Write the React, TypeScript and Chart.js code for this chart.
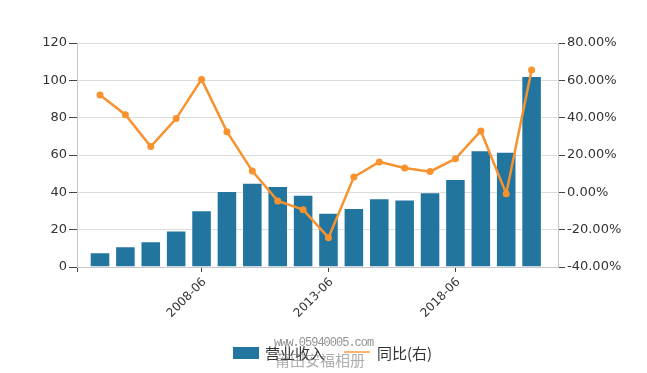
import React, { useEffect, useRef } from "react";
import { Chart, registerables } from "chart.js";

Chart.register(...registerables);

const categories = [
  "2004-06", "2005-06", "2006-06", "2007-06", "2008-06", "2009-06",
  "2010-06", "2011-06", "2012-06", "2013-06", "2014-06", "2015-06",
  "2016-06", "2017-06", "2018-06", "2019-06", "2020-06", "2021-06",
];
const revenue = [7.9, 11.1, 13.8, 19.6, 30.4, 40.7, 45.2, 43.4, 38.7, 29.1, 31.6, 36.8, 36.2, 40.0, 47.1, 62.5, 61.8, 102.3];
const yoy = [52.1, 41.6, 24.5, 39.5, 60.5, 32.5, 11.4, -4.6, -9.3, -24.3, 8.2, 16.3, 13.0, 11.1, 18.0, 32.9, -0.7, 65.5];
const labeledCategories = ["2008-06", "2013-06", "2018-06"];
const leftTicks = { min: 0, max: 120, step: 20 };
const rightTicks = { min: -40, max: 80, step: 20 };
const seriesNames = ["营业收入", "同比(右)"];

const BLUE = "#22759f";
const ORANGE = "#f7922f";

export default function App() {
  const ref = useRef<HTMLCanvasElement | null>(null);

  useEffect(() => {
    document.body.style.margin = "0";
    const canvas = ref.current;
    if (!canvas) return;
    Chart.defaults.font.family = "'DejaVu Sans', Verdana, sans-serif";
    Chart.defaults.font.size = 13;
    Chart.defaults.color = "#333";
    const xMin = -0.906;
    const xMax = 18.04;
    const chart = new Chart(canvas, {
      type: "bar",
      data: {
        datasets: [
          {
            type: "line",
            label: seriesNames[1],
            data: categories.map((_, i) => ({ x: i, y: yoy[i] })),
            yAxisID: "y1",
            borderColor: ORANGE,
            backgroundColor: ORANGE,
            borderWidth: 2.5,
            pointRadius: 3.5,
            pointBorderWidth: 0,
            pointBackgroundColor: ORANGE,
            tension: 0,
            order: 0,
          } as any,
          {
            type: "bar",
            label: seriesNames[0],
            data: categories.map((_, i) => ({ x: i, y: revenue[i] })),
            yAxisID: "y",
            backgroundColor: BLUE,
            borderColor: "rgba(255,255,255,0.3)",
            borderWidth: 1,
            barPercentage: 0.81,
            categoryPercentage: 1,
            order: 1,
          } as any,
        ],
      },
      options: {
        animation: false,
        responsive: false,
        maintainAspectRatio: false,
        layout: { padding: { top: 43, left: 0, right: 0, bottom: 0 } },
        plugins: { legend: { display: false }, tooltip: { enabled: false } },
        scales: {
          x: {
            type: "linear",
            offset: false,
            min: xMin,
            max: xMax,
            afterBuildTicks: (scale: any) => {
              scale.ticks = [xMin, ...labeledCategories.map((c) => categories.indexOf(c))].map((v) => ({ value: v }));
            },
            afterFit: (scale: any) => {
              scale.height = 106;
            },
            ticks: {
              autoSkip: false,
              maxRotation: 45,
              minRotation: 45,
              padding: 3,
              labelOffset: 3,
              color: "#333",
              font: { size: 12 },
              callback: (v: any) => (Number.isInteger(v) ? categories[v] ?? "" : ""),
            },
            grid: { offset: false, drawOnChartArea: false, tickLength: 5, tickColor: "#444" },
            border: { color: "#c8c8c8" },
          },
          y: {
            position: "left",
            min: leftTicks.min,
            max: leftTicks.max,
            afterFit: (scale: any) => {
              scale.width = 77;
            },
            ticks: { stepSize: leftTicks.step, padding: 2, color: "#333" },
            grid: { color: "#dcdcdc", tickColor: "#444", tickLength: 8 },
            border: { color: "#c8c8c8" },
          },
          y1: {
            position: "right",
            min: rightTicks.min,
            max: rightTicks.max,
            afterFit: (scale: any) => {
              scale.width = 89;
            },
            ticks: {
              stepSize: rightTicks.step,
              padding: 2,
              color: "#333",
              callback: (v: any) => `${Number(v).toFixed(2)}%`,
            },
            grid: { drawOnChartArea: false, tickColor: "#444", tickLength: 7 },
            border: { color: "#c8c8c8" },
          },
        },
      },
    });
    return () => chart.destroy();
  }, []);

  const legendText: React.CSSProperties = {
    position: "absolute",
    top: 344,
    fontFamily: "'Noto Sans CJK SC', sans-serif",
    fontSize: 15,
    lineHeight: "18px",
    color: "#333",
    whiteSpace: "nowrap",
  };

  return (
    <div style={{ position: "relative", width: 647, height: 373, overflow: "hidden" }}>
      <canvas ref={ref} width={647} height={373} style={{ display: "block" }} />
      <div style={{ position: "absolute", left: 233, top: 347, width: 26, height: 12, background: BLUE }} />
      <span style={{ ...legendText, left: 265 }}>{seriesNames[0]}</span>
      <div style={{ position: "absolute", left: 344, top: 351, width: 26, height: 2, background: "#f9b470" }} />
      <span style={{ ...legendText, left: 377 }}>{seriesNames[1]}</span>
      <span
        style={{
          position: "absolute",
          left: 274,
          top: 336,
          fontFamily: "'Liberation Mono', monospace",
          fontSize: 12,
          letterSpacing: -1,
          color: "rgba(110,110,110,0.75)",
          whiteSpace: "nowrap",
        }}
      >
        www.05940005.com
      </span>
      <span
        style={{
          position: "absolute",
          left: 275,
          top: 351,
          fontFamily: "'Noto Sans CJK SC', serif",
          fontSize: 15,
          lineHeight: "18px",
          color: "rgba(120,120,120,0.6)",
          whiteSpace: "nowrap",
          letterSpacing: 0,
        }}
      >
        莆田安福相册
      </span>
    </div>
  );
}
